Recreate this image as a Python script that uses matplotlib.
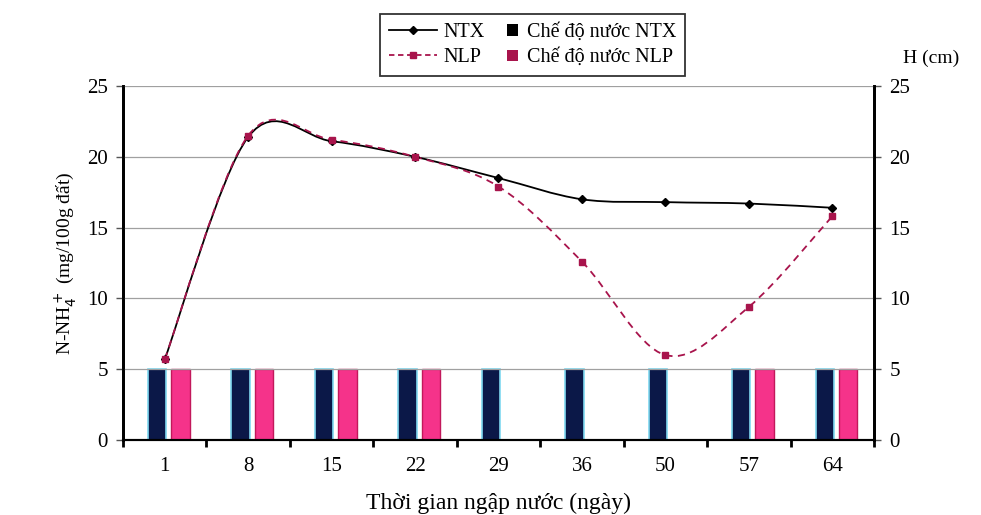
import numpy as np
import matplotlib
matplotlib.use('Agg')
import matplotlib.pyplot as plt
from matplotlib.path import Path
from matplotlib.patches import PathPatch, Patch, Rectangle
from matplotlib.lines import Line2D
from matplotlib.legend_handler import HandlerPatch

# Datos
days = ['1', '8', '15', '22', '29', '36', '50', '57', '64']
ntx = [5.7, 21.4, 21.1, 20.0, 18.5, 17.0, 16.8, 16.7, 16.4]
nlp = [5.7, 21.5, 21.2, 20.0, 17.9, 12.6, 6.0, 9.4, 15.8]
h_ntx = [5, 5, 5, 5, 5, 5, 5, 5, 5]
h_nlp = [5, 5, 5, 5, 0, 0, 0, 5, 5]

plt.rcParams['font.family'] = ['Liberation Serif', 'DejaVu Serif']

NAVY = '#0b1848'
PINK = '#f5338a'
NLP_LINE = '#a8144c'


def smooth_path(x, y):
    """Curva suavizada tipo Excel (Catmull-Rom como Bezier)."""
    px = [x[0]] + list(x) + [x[-1]]
    py = [y[0]] + list(y) + [y[-1]]
    verts = [(x[0], y[0])]
    codes = [Path.MOVETO]
    for i in range(1, len(px) - 2):
        c1 = (px[i] + (px[i + 1] - px[i - 1]) / 6, py[i] + (py[i + 1] - py[i - 1]) / 6)
        c2 = (px[i + 1] - (px[i + 2] - px[i]) / 6, py[i + 1] - (py[i + 2] - py[i]) / 6)
        verts += [c1, c2, (px[i + 1], py[i + 1])]
        codes += [Path.CURVE4] * 3
    return Path(verts, codes)


def small_square(legend, orig_handle, xdescent, ydescent, width, height, fontsize):
    # cuadrado pequeno pegado al texto
    s = 8
    return Rectangle((-xdescent + width - s - 2, -ydescent + (height - s) / 2), s, s)


fig = plt.figure(figsize=(9.81, 5.15), dpi=100)
ax = fig.add_axes([0.1254, 0.1456, 0.7655, 0.6874])
ax2 = ax.twinx()

x = np.arange(len(days))

# Barras (eje secundario H)
ax2.bar(x - 0.09, h_ntx, width=0.22, color=NAVY, edgecolor='#7fd8f0', linewidth=1.2, zorder=2)
ax2.bar(x + 0.19, h_nlp, width=0.22, color=PINK, edgecolor='#c2185b', linewidth=1.0, zorder=2)

# Lineas (eje principal)
ax.set_zorder(ax2.get_zorder() + 1)
ax.patch.set_visible(False)
ax.add_patch(PathPatch(smooth_path(x, ntx), fill=False, edgecolor='black', linewidth=1.3, zorder=3))
ax.plot(x, ntx, linestyle='none', marker='D', markersize=4, color='black', zorder=4)
ax.add_patch(PathPatch(smooth_path(x, nlp), fill=False, edgecolor=NLP_LINE, linewidth=1.3,
                       linestyle=(0, (4, 3)), zorder=3))
ax.plot(x, nlp, linestyle='none', marker='s', markersize=5, color=NLP_LINE, zorder=4)

for a in (ax, ax2):
    a.set_ylim(0, 25)
    a.set_yticks([0, 5, 10, 15, 20, 25])
    a.tick_params(axis='y', labelsize=15, length=5, width=1, color='#555555', pad=6)
ax.set_xlim(-0.5, len(days) - 0.5)
ax.set_xticks(x)
ax.set_xticklabels(days)
ax.set_xticks(np.arange(-0.5, len(days), 1.0), minor=True)
ax.tick_params(axis='x', which='major', length=0, labelsize=15, pad=12)
ax.tick_params(axis='x', which='minor', length=5, width=2, color='black')

ax.yaxis.grid(True, color='#a0a0a0', linewidth=0.9)
ax.set_axisbelow(True)
ax2.set_axisbelow(True)
for a in (ax, ax2):
    a.spines['top'].set_visible(False)
    a.spines['left'].set_linewidth(2)
    a.spines['right'].set_linewidth(2)
    a.spines['bottom'].set_linewidth(1.5)

ax.set_ylabel('N-NH$_4^+$ (mg/100g đất)', fontsize=14, labelpad=6)
ax.set_xlabel('Thời gian ngập nước (ngày)', fontsize=17, labelpad=12)
fig.text(0.92, 0.887, 'H (cm)', fontsize=14, ha='left', va='center')

handles = [
    Line2D([], [], color='black', marker='D', markersize=4, linewidth=1.3),
    Line2D([], [], color=NLP_LINE, marker='s', markersize=5, linewidth=1.3, linestyle=(0, (3, 2))),
    Patch(facecolor='black'),
    Patch(facecolor=NLP_LINE),
]
labels = ['NTX', 'NLP', 'Chế độ nước NTX', 'Chế độ nước NLP']
leg = fig.legend(handles, labels, ncol=2, loc='center', bbox_to_anchor=(0.543, 0.9125),
                 fontsize=14.5, frameon=True, fancybox=False, edgecolor='black',
                 handlelength=2.4, columnspacing=-0.6, handletextpad=0.3,
                 labelspacing=0.3, borderpad=0.45,
                 handler_map={Patch: HandlerPatch(patch_func=small_square)})
leg.get_frame().set_linewidth(1.3)

fig.savefig('out.png', dpi=100)
